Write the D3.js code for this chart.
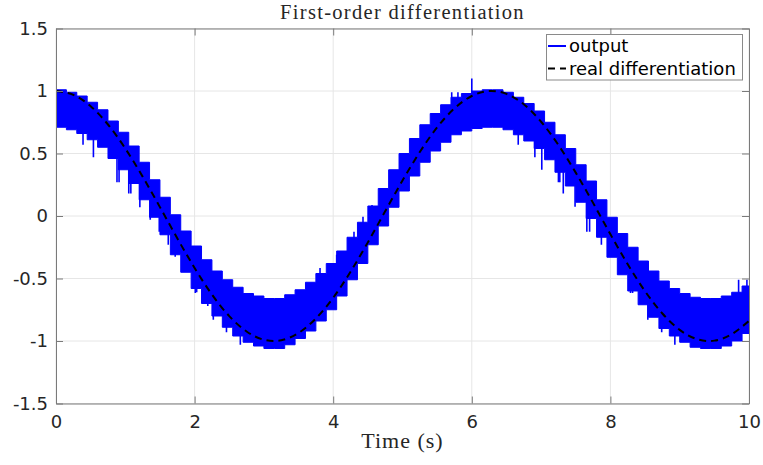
<!DOCTYPE html>
<html><head><meta charset="utf-8">
<script src="https://cdn.jsdelivr.net/npm/d3@7"></script>
<style>body{margin:0;background:#fff}</style>
</head><body>
<svg id="c" width="763" height="465"></svg>
<script>
const xTicks=[0,2,4,6,8,10];
const xTickLabels=["0","2","4","6","8","10"];
const yTicks=[-1.5,-1,-0.5,0,0.5,1,1.5];
const yTickLabels=["-1.5","-1","-0.5","0","0.5","1","1.5"];
const seriesNames=["output","real differentiation"];

// real differentiation (dashed)
const refTime=[0,0.25,0.5,0.75,1,1.25,1.5,1.75,2,2.25,2.5,2.75,3,3.25,3.5,3.75,4,4.25,4.5,4.75,5,5.25,5.5,5.75,6,6.25,6.5,6.75,7,7.25,7.5,7.75,8,8.25,8.5,8.75,9,9.25,9.5,9.75,10];
const refValue=[1,0.969,0.878,0.732,0.54,0.315,0.071,-0.178,-0.416,-0.628,-0.801,-0.924,-0.99,-0.994,-0.936,-0.82,-0.654,-0.446,-0.211,0.038,0.284,0.512,0.709,0.861,0.96,1,0.977,0.894,0.754,0.568,0.347,0.105,-0.146,-0.386,-0.602,-0.78,-0.911,-0.985,-0.997,-0.946,-0.839];

// output: chattering band, held in steps
const bandTime=[0,0.15,0.3,0.45,0.6,0.75,0.9,1.05,1.2,1.35,1.5,1.65,1.8,1.95,2.1,2.25,2.4,2.55,2.7,2.85,3,3.15,3.3,3.45,3.6,3.75,3.9,4.05,4.2,4.35,4.5,4.65,4.8,4.95,5.1,5.25,5.4,5.55,5.7,5.85,6,6.15,6.3,6.45,6.6,6.75,6.9,7.05,7.2,7.35,7.5,7.65,7.8,7.95,8.1,8.25,8.4,8.55,8.7,8.85,9,9.15,9.3,9.45,9.6,9.75,9.9,10];
const bandUpper=[1.01,0.99,0.96,0.91,0.85,0.76,0.67,0.56,0.43,0.29,0.15,0.01,-0.12,-0.24,-0.35,-0.44,-0.51,-0.57,-0.62,-0.64,-0.66,-0.66,-0.63,-0.59,-0.53,-0.46,-0.38,-0.28,-0.17,-0.05,0.08,0.22,0.37,0.50,0.62,0.73,0.82,0.89,0.95,0.98,1.00,1.01,1.01,0.99,0.95,0.90,0.84,0.75,0.65,0.54,0.41,0.28,0.13,-0.01,-0.14,-0.25,-0.36,-0.44,-0.52,-0.58,-0.62,-0.65,-0.66,-0.66,-0.64,-0.61,-0.56,-0.56];
const bandLower=[0.71,0.69,0.66,0.61,0.55,0.46,0.37,0.26,0.13,-0.01,-0.15,-0.31,-0.45,-0.58,-0.70,-0.80,-0.89,-0.96,-1.01,-1.04,-1.06,-1.06,-1.03,-0.98,-0.92,-0.84,-0.75,-0.64,-0.51,-0.38,-0.23,-0.08,0.07,0.20,0.32,0.43,0.52,0.59,0.65,0.68,0.70,0.71,0.71,0.69,0.65,0.60,0.54,0.45,0.35,0.24,0.11,-0.02,-0.17,-0.33,-0.47,-0.60,-0.71,-0.81,-0.90,-0.96,-1.01,-1.05,-1.06,-1.06,-1.04,-1.00,-0.94,-0.94];

// isolated spikes of the output
const spikeTime=[0.39,0.54,0.88,0.91,1.05,1.08,1.21,1.36,1.49,1.52,1.62,1.72,1.83,2.01,2.03,2.19,2.27,2.46,2.66,
 3.81,4.05,4.30,4.43,4.56,4.68,4.82,5.04,5.15,5.22,5.30,5.43,5.71,5.80,6.00,
 6.67,6.91,7.01,7.25,7.27,7.32,7.49,7.66,7.70,7.87,7.97,8.14,8.29,8.32,8.54,8.74,8.93,9.85,9.97];
const spikeValue=[0.57,0.47,0.27,0.27,0.18,0.18,0.07,-0.03,-0.125,-0.13,-0.23,-0.325,-0.43,-0.615,-0.61,-0.72,-0.83,-0.93,-1.03,
 -0.415,-0.31,-0.125,-0.005,0.088,0.19,0.287,0.487,0.59,0.59,0.69,0.79,0.99,0.99,1.10,
 0.57,0.47,0.37,0.27,0.27,0.18,0.074,-0.125,-0.125,-0.23,-0.325,-0.445,-0.615,-0.615,-0.83,-0.93,-1.03,-0.51,-0.51];

const svg=d3.select("#c");
const M={l:56,r:749,t:28.5,b:403.5};
const x=d3.scaleLinear().domain([0,10]).range([M.l,M.r]);
const y=d3.scaleLinear().domain([-1.5,1.5]).range([M.b,M.t]);
const blue="#0000ff", axisCol="#7a7a7a", txt="#262626";

svg.append("rect").attr("width",763).attr("height",465).attr("fill","#fff");
svg.append("clipPath").attr("id","pc").append("rect")
  .attr("x",M.l).attr("y",M.t).attr("width",M.r-M.l).attr("height",M.b-M.t);

// grid
const g=svg.append("g").attr("stroke","#e6e6e6").attr("stroke-width",1);
xTicks.forEach(v=>g.append("line").attr("x1",x(v)).attr("x2",x(v)).attr("y1",M.t).attr("y2",M.b));
yTicks.forEach(v=>g.append("line").attr("x1",M.l).attr("x2",M.r).attr("y1",y(v)).attr("y2",y(v)));

const plot=svg.append("g").attr("clip-path","url(#pc)");
const band=bandTime.map((t,i)=>({t,u:bandUpper[i],l:bandLower[i]}));
plot.append("path").datum(band)
  .attr("d",d3.area().x(d=>x(d.t)).y0(d=>y(d.l)).y1(d=>y(d.u)).curve(d3.curveStepAfter))
  .attr("fill",blue).attr("stroke",blue).attr("stroke-width",1);
spikeTime.forEach((t,i)=>{
  const k=Math.max(0,d3.bisectRight(bandTime,t)-1);
  const mid=(bandUpper[k]+bandLower[k])/2;
  plot.append("line").attr("x1",x(t)).attr("x2",x(t)).attr("y1",y(mid)).attr("y2",y(spikeValue[i]))
    .attr("stroke",blue).attr("stroke-width",1.6);
});
plot.append("path").datum(refTime.map((t,i)=>[t,refValue[i]]))
  .attr("d",d3.line().x(d=>x(d[0])).y(d=>y(d[1])).curve(d3.curveNatural))
  .attr("fill","none").attr("stroke","#000").attr("stroke-width",2).attr("stroke-dasharray","7,5");

// axes
function style(sel){
  sel.selectAll(".domain").attr("stroke",axisCol);
  sel.selectAll(".tick line").attr("stroke",axisCol);
  sel.selectAll("text").attr("fill",txt).style("font-family","'DejaVu Sans'").style("font-size","18px");
}
svg.append("g").attr("transform",`translate(0,${M.b})`)
  .call(d3.axisBottom(x).tickValues(xTicks).tickFormat((d,i)=>xTickLabels[i]).tickSizeInner(-7).tickSizeOuter(0).tickPadding(12)).call(style);
svg.append("g").attr("transform",`translate(0,${M.t})`)
  .call(d3.axisTop(x).tickValues(xTicks).tickFormat("").tickSizeInner(-7).tickSizeOuter(0)).call(style);
svg.append("g").attr("transform",`translate(${M.l},0)`)
  .call(d3.axisLeft(y).tickValues(yTicks).tickFormat((d,i)=>yTickLabels[i]).tickSizeInner(-7).tickSizeOuter(0).tickPadding(8)).call(style);
svg.append("g").attr("transform",`translate(${M.r},0)`)
  .call(d3.axisRight(y).tickValues(yTicks).tickFormat("").tickSizeInner(-7).tickSizeOuter(0)).call(style);

// title & label
svg.append("text").attr("x",(M.l+M.r)/2).attr("y",18.5).attr("text-anchor","middle")
  .style("font-family","'Liberation Serif'").style("font-size","20.5px").style("letter-spacing","1.3px")
  .attr("fill",txt).text("First-order differentiation");
svg.append("text").attr("x",(M.l+M.r)/2).attr("y",448).attr("text-anchor","middle")
  .style("font-family","'Liberation Serif'").style("font-size","22px").style("letter-spacing","1px")
  .attr("fill",txt).text("Time (s)");

// legend
const L=svg.append("g");
L.append("rect").attr("x",546.5).attr("y",34.5).attr("width",196).attr("height",45.5)
  .attr("fill","#fff").attr("stroke","#8a8a8a").attr("stroke-width",1);
L.append("line").attr("x1",548).attr("x2",566).attr("y1",46).attr("y2",46).attr("stroke",blue).attr("stroke-width",2);
L.append("line").attr("x1",548).attr("x2",566).attr("y1",68.5).attr("y2",68.5).attr("stroke","#000").attr("stroke-width",2).attr("stroke-dasharray","7,5");
L.selectAll("text.lg").data(seriesNames).join("text").attr("class","lg")
  .attr("x",569).attr("y",(d,i)=>52+i*22.5).attr("fill","#000")
  .style("font-family","'DejaVu Sans'").style("font-size","18px").text(d=>d);
</script>
</body></html>
